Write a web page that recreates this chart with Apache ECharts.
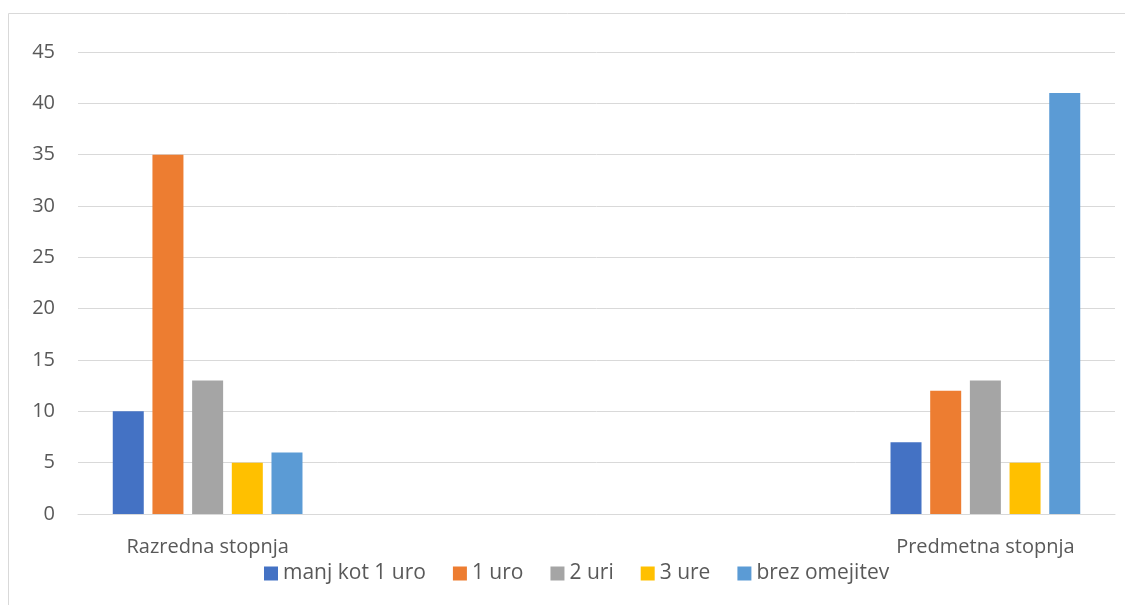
<!DOCTYPE html>
<html><head><meta charset="utf-8">
<script src="https://cdn.jsdelivr.net/npm/echarts@6/dist/echarts.min.js"></script>
<style>html,body{margin:0;padding:0;background:#fff}#c{width:1125px;height:605px}</style>
</head><body><div id="c"></div>
<script>
var categories = ["Razredna stopnja", "", "", "Predmetna stopnja"];
var seriesNames = ["manj kot 1 uro", "1 uro", "2 uri", "3 ure", "brez omejitev"];
var manjKot1Uro = [10, null, null, 7];
var ena = [35, null, null, 12];
var dve = [13, null, null, 13];
var tri = [5, null, null, 5];
var brez = [6, null, null, 41];
var colors = ["#4472C4", "#ED7D31", "#A5A5A5", "#FFC000", "#5B9BD5"];
var values = [manjKot1Uro, ena, dve, tri, brez];
var font = "'Open Sans', 'Noto Sans', sans-serif";
var chart = echarts.init(document.getElementById('c'));
chart.setOption({
  animation: false,
  color: colors,
  graphic: [{type:'rect', shape:{x:8.5,y:13.5,width:1300,height:800}, style:{fill:'none', stroke:'#d9d9d9', lineWidth:1}, silent:true}],
  grid: {left: 78, right: 10, top: 52, bottom: 91},
  legend: {
    top: 563, left: 264, itemWidth: 14, itemHeight: 14, itemGap: 27,
    icon: 'rect', padding: 0,
    textStyle: {color: '#595959', fontSize: 21, fontFamily: font},
    data: seriesNames
  },
  xAxis: {
    type: 'category', data: categories,
    axisLine: {lineStyle: {color: '#d9d9d9', width: 1}},
    axisTick: {show: false},
    axisLabel: {color: '#595959', fontSize: 20, fontFamily: font, margin: 23, interval: 0}
  },
  yAxis: {
    type: 'value', min: 0, max: 45, interval: 5,
    axisLine: {show: false}, axisTick: {show: false},
    splitLine: {lineStyle: {color: '#d9d9d9', width: 1}},
    axisLabel: {color: '#595959', fontSize: 20, fontFamily: font, margin: 23}
  },
  series: seriesNames.map(function(n, i){
    return {name: n, type: 'bar', data: values[i], barWidth: 31, barGap: '28%', itemStyle:{color: colors[i]}};
  })
});
</script></body></html>
